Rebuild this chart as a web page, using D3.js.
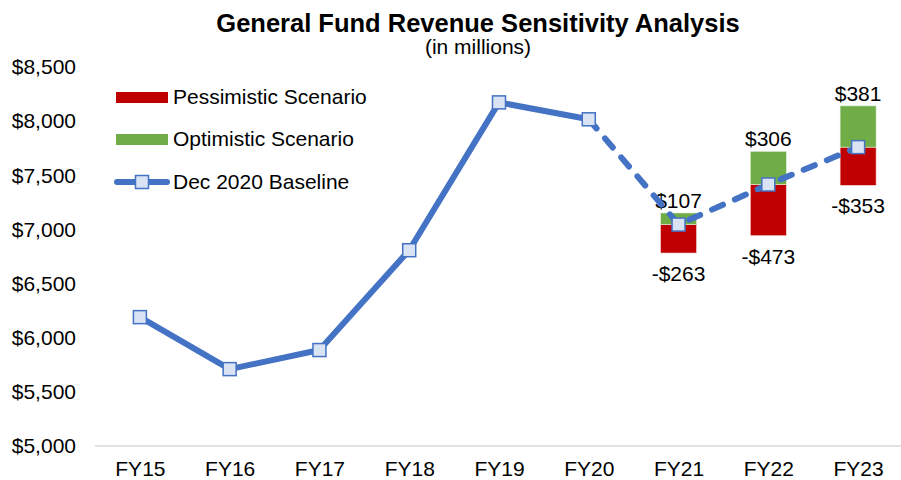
<!DOCTYPE html>
<html>
<head>
<meta charset="utf-8">
<script src="https://cdn.jsdelivr.net/npm/d3@7"></script>
<style>
  body { margin: 0; background: #fff; }
  text { font-family: "Liberation Sans", Arial, sans-serif; fill: #000; }
</style>
</head>
<body>
<div id="chart"></div>
<script>
// data
const years = ["FY15", "FY16", "FY17", "FY18", "FY19", "FY20", "FY21", "FY22", "FY23"];
const baseline = [6190, 5710, 5886, 6808, 8173, 8017, 7045, 7415, 7760];
const scenYears = ["FY21", "FY22", "FY23"];
const pessimistic = [-263, -473, -353];
const optimistic = [107, 306, 381];
const yTicks = [5000, 5500, 6000, 6500, 7000, 7500, 8000, 8500];

const w = 901, h = 480;
const blue = "#4472C4", red = "#C00000", green = "#70AD47";
const fs = "21px";

const svg = d3.select("#chart").append("svg")
  .attr("width", w).attr("height", h);

const x = d3.scalePoint().domain(years).range([95, 903]).padding(0.5);
const y = d3.scaleLinear().domain([5000, 8500]).range([446, 67]);

// title
svg.append("text").attr("x", 478).attr("y", 32).attr("text-anchor", "middle")
  .style("font-size", "25.5px").style("font-weight", "bold")
  .text("General Fund Revenue Sensitivity Analysis");
svg.append("text").attr("x", 478).attr("y", 54).attr("text-anchor", "middle")
  .style("font-size", fs).text("(in millions)");

// y axis labels, no line
const yAxis = d3.axisLeft(y).tickValues(yTicks).tickSize(0).tickPadding(0)
  .tickFormat(d => "$" + d3.format(",")(d));
const gy = svg.append("g").attr("transform", "translate(76,0)").call(yAxis);
gy.select(".domain").remove();
gy.selectAll("text").style("font-size", fs).attr("font-family", null);

// baseline gridline
svg.append("line").attr("x1", 95).attr("x2", 901)
  .attr("y1", y(5000)).attr("y2", y(5000))
  .attr("stroke", "#d9d9d9").attr("stroke-width", 1.5);

// x axis labels
const xAxis = d3.axisBottom(x).tickSize(0).tickPadding(15);
const gx = svg.append("g").attr("transform", "translate(0," + y(5000) + ")").call(xAxis);
gx.select(".domain").remove();
gx.selectAll("text").style("font-size", fs).attr("font-family", null);

// scenario bars
const bw = 36;
scenYears.forEach((yr, i) => {
  const b = baseline[years.indexOf(yr)];
  const cx = x(yr);
  svg.append("rect").attr("x", cx - bw / 2).attr("width", bw)
    .attr("y", y(b)).attr("height", y(b + pessimistic[i]) - y(b))
    .attr("fill", red).attr("stroke", "#f2dcdc").attr("stroke-width", 0.6);
  svg.append("rect").attr("x", cx - bw / 2).attr("width", bw)
    .attr("y", y(b + optimistic[i])).attr("height", y(b) - y(b + optimistic[i]))
    .attr("fill", green).attr("stroke", "#e2efda").attr("stroke-width", 0.6);
  svg.append("text").attr("x", cx).attr("y", y(b + optimistic[i]) - 5)
    .attr("text-anchor", "middle").style("font-size", fs)
    .text("$" + optimistic[i]);
  svg.append("text").attr("x", cx).attr("y", y(b + pessimistic[i]) + 28)
    .attr("text-anchor", "middle").style("font-size", fs)
    .text("-$" + Math.abs(pessimistic[i]));
});

// baseline line: solid actuals, dashed projections
const pts = years.map((d, i) => [x(d), y(baseline[i])]);
const line = d3.line();
svg.append("path").attr("d", line(pts.slice(0, 6)))
  .attr("fill", "none").attr("stroke", blue).attr("stroke-width", 6)
  .attr("stroke-linejoin", "round");
svg.append("path").attr("d", line(pts.slice(5)))
  .attr("fill", "none").attr("stroke", blue).attr("stroke-width", 6)
  .attr("stroke-dasharray", "12,13")
  .attr("stroke-linecap", "round");

const ms = 13;
svg.selectAll(".mk").data(pts).enter().append("rect")
  .attr("class", "mk")
  .attr("x", d => d[0] - ms / 2).attr("y", d => d[1] - ms / 2)
  .attr("width", ms).attr("height", ms)
  .attr("fill", "#DAE3F3").attr("stroke", blue).attr("stroke-width", 1.5);

// legend
const lg = svg.append("g");
lg.append("rect").attr("x", 116).attr("y", 92).attr("width", 52).attr("height", 11).attr("fill", red);
lg.append("text").attr("x", 173).attr("y", 104).style("font-size", fs).text("Pessimistic Scenario");
lg.append("rect").attr("x", 116).attr("y", 134).attr("width", 52).attr("height", 11).attr("fill", green);
lg.append("text").attr("x", 173).attr("y", 146).style("font-size", fs).text("Optimistic Scenario");
lg.append("line").attr("x1", 117).attr("x2", 167).attr("y1", 182).attr("y2", 182)
  .attr("stroke", blue).attr("stroke-width", 6).attr("stroke-linecap", "round");
lg.append("rect").attr("x", 142 - ms / 2).attr("y", 182 - ms / 2).attr("width", ms).attr("height", ms)
  .attr("fill", "#DAE3F3").attr("stroke", blue).attr("stroke-width", 1.5);
lg.append("text").attr("x", 173).attr("y", 189).style("font-size", fs).text("Dec 2020 Baseline");
</script>
</body>
</html>
